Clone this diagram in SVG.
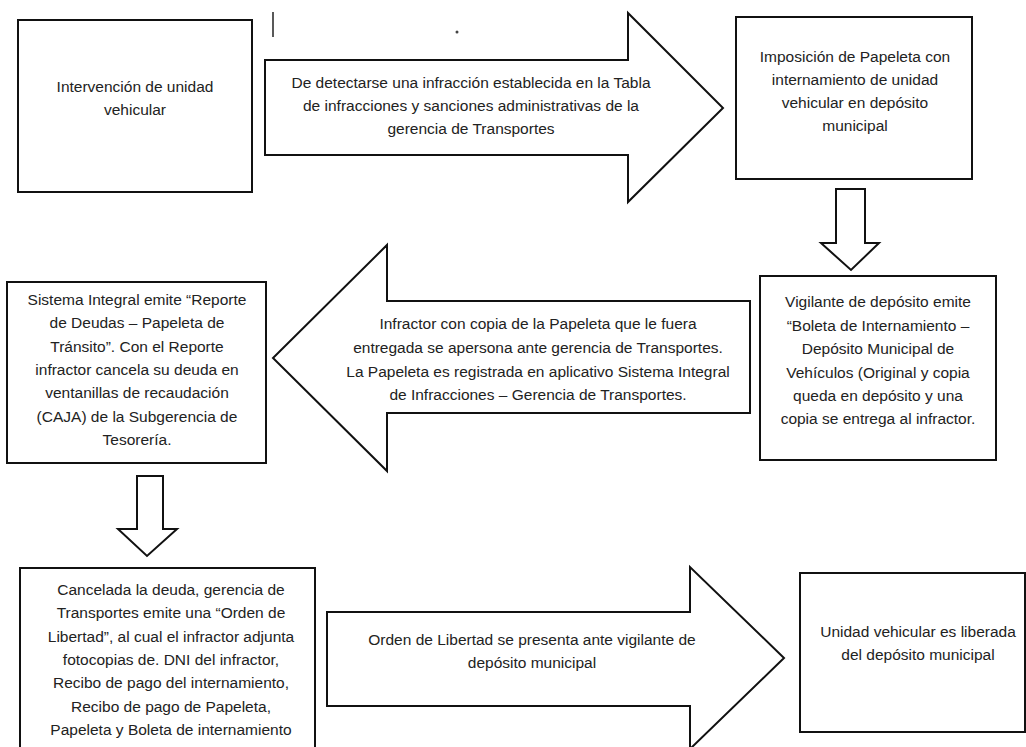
<svg xmlns="http://www.w3.org/2000/svg" width="1026" height="747" viewBox="0 0 1026 747">
<style>
.box{fill:#fff;stroke:#111;stroke-width:2}
.arr{fill:#fff;stroke:#111;stroke-width:2;stroke-linejoin:miter}
.t{font-family:"Liberation Sans",Arial,sans-serif;font-size:15.5px;fill:#222;text-anchor:middle}
</style>
<rect width="1026" height="747" fill="#fff"/>
<line x1="273" y1="12" x2="273" y2="37" stroke="#222" stroke-width="1.5"/>
<circle cx="457" cy="32" r="1.5" fill="#444"/>
<g id="connectors">
<g id="arrow1">
<polygon class="arr" points="265,60 628,60 628,13 723,108 628,202 628,155 265,155"/>
<text class="t"><tspan x="471" y="88">De detectarse una infracción establecida en la Tabla</tspan><tspan x="471" y="111">de infracciones y sanciones administrativas de la</tspan><tspan x="471" y="134">gerencia de Transportes</tspan></text>
</g>
<polygon id="arrow2" class="arr" points="836,189 865,189 865,243 879,243 851,270 821,243 836,243"/>
<g id="arrow3">
<polygon class="arr" points="750,301 387,301 387,245 273,358 387,471 387,413 750,413"/>
<text class="t"><tspan x="538" y="329">Infractor con copia de la Papeleta que le fuera</tspan><tspan x="538" y="353">entregada se apersona ante gerencia de Transportes.</tspan><tspan x="538" y="377">La Papeleta es registrada en aplicativo Sistema Integral</tspan><tspan x="538" y="400">de Infracciones – Gerencia de Transportes.</tspan></text>
</g>
<polygon id="arrow4" class="arr" points="137,476 163,476 163,529 177,529 147,556 118,529 137,529"/>
<g id="arrow5">
<polygon class="arr" points="327,612 690,612 690,567 784,658 690,749 690,706 327,706"/>
<text class="t"><tspan x="532" y="645">Orden de Libertad se presenta ante vigilante de</tspan><tspan x="532" y="668">depósito municipal</tspan></text>
</g>
</g>
<g id="n1">
<rect class="box" x="18" y="20" width="234" height="172"/>
<text class="t"><tspan x="135" y="92">Intervención de unidad</tspan><tspan x="135" y="115">vehicular</tspan></text>
</g>
<g id="n2">
<rect class="box" x="736" y="17" width="236" height="162"/>
<text class="t"><tspan x="855" y="62">Imposición de Papeleta con</tspan><tspan x="855" y="85">internamiento de unidad</tspan><tspan x="855" y="108">vehicular en depósito</tspan><tspan x="855" y="131">municipal</tspan></text>
</g>
<g id="n3">
<rect class="box" x="760" y="276" width="236" height="184"/>
<text class="t"><tspan x="878" y="307">Vigilante de depósito emite</tspan><tspan x="878" y="331">“Boleta de Internamiento –</tspan><tspan x="878" y="354">Depósito Municipal de</tspan><tspan x="878" y="378">Vehículos (Original y copia</tspan><tspan x="878" y="401">queda en depósito y una</tspan><tspan x="878" y="424">copia se entrega al infractor.</tspan></text>
</g>
<g id="n4">
<rect class="box" x="7" y="282" width="259" height="181"/>
<text class="t"><tspan x="137" y="305">Sistema Integral emite “Reporte</tspan><tspan x="137" y="328">de Deudas – Papeleta de</tspan><tspan x="137" y="352">Tránsito”. Con el Reporte</tspan><tspan x="137" y="375">infractor cancela su deuda en</tspan><tspan x="137" y="398">ventanillas de recaudación</tspan><tspan x="137" y="422">(CAJA) de la Subgerencia de</tspan><tspan x="137" y="445">Tesorería.</tspan></text>
</g>
<g id="n5">
<rect class="box" x="20" y="568" width="295" height="182"/>
<text class="t"><tspan x="171" y="595">Cancelada la deuda, gerencia de</tspan><tspan x="171" y="618">Transportes emite una “Orden de</tspan><tspan x="171" y="642">Libertad”, al cual el infractor adjunta</tspan><tspan x="171" y="665">fotocopias de. DNI del infractor,</tspan><tspan x="171" y="688">Recibo de pago del internamiento,</tspan><tspan x="171" y="712">Recibo de pago de Papeleta,</tspan><tspan x="171" y="735">Papeleta y Boleta de internamiento</tspan></text>
</g>
<g id="n6">
<rect class="box" x="800" y="573" width="225" height="159"/>
<text class="t"><tspan x="918" y="637">Unidad vehicular es liberada</tspan><tspan x="918" y="660">del depósito municipal</tspan></text>
</g>
</svg>
